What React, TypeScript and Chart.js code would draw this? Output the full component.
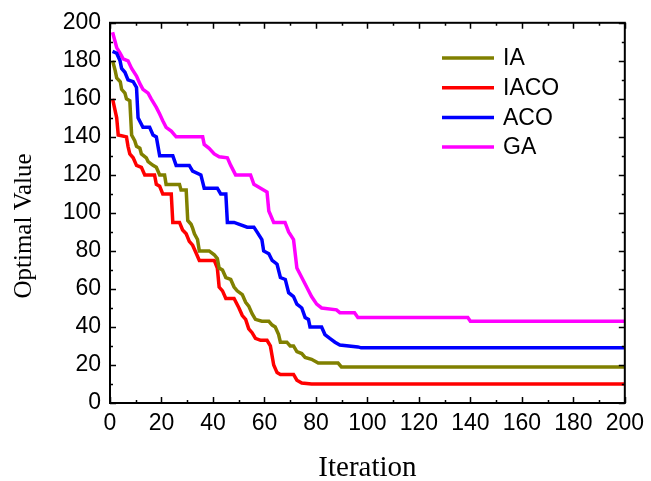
import React, { useEffect, useRef } from "react";
import { Chart, registerables } from "chart.js";

Chart.register(...registerables);

// ---- data ----
const seriesLabels = ["IA", "IACO", "ACO", "GA"];
const seriesColors = ["#808000", "#FF0000", "#0000FF", "#FF00FF"];

const iaIter = [1, 2, 2.6, 4, 4.5, 5.8, 6.4, 7.7, 8.4, 9.6, 10.3, 11.6, 12.2, 14.1, 14.8, 16.7, 18, 19.3, 21.2, 21.8, 27, 27.6, 29.6, 30.2, 31.5, 32.1, 32.8, 34, 34.7, 38.5, 40.5, 41.7, 42.4, 43.7, 45, 46.9, 48.2, 49.4, 51.4, 52.7, 53.9, 55.2, 56.5, 59, 61.7, 63, 64.2, 65.5, 66.2, 68.7, 70, 71.3, 72.6, 74.5, 75.8, 78.3, 80.9, 88.6, 89.9, 200];
const iaValue = [180, 175, 171, 169, 165, 163, 160, 159, 141, 138, 135, 134, 131, 129, 127, 125, 124, 120, 120, 115, 115, 112, 112, 96, 94, 92, 89, 86, 80, 80, 78, 76, 71, 70, 66, 65, 61, 59, 57, 53, 51, 47, 44, 43, 43, 41, 40, 36, 32, 32, 30, 30, 27, 26, 24, 23, 21, 21, 19, 19];

const iacoIter = [1, 2.6, 3.2, 6.4, 7, 7.7, 9, 10.3, 12.2, 13.5, 17.3, 18, 19.3, 20.5, 23.8, 24.4, 27, 28.2, 29.6, 30.8, 32.1, 33.4, 34.7, 40.5, 41.7, 42.4, 43.7, 45, 48.2, 50.1, 51.4, 52.7, 53.9, 55.2, 56.5, 58.5, 61, 62.3, 63.6, 64.9, 66.2, 71.3, 72.6, 74.5, 78.3, 200];
const iacoValue = [160, 150, 141, 140, 135, 131, 129, 125, 124, 120, 120, 115, 114, 110, 110, 95, 95, 91, 89, 85, 83, 79, 75, 75, 71, 61, 59, 55, 55, 50, 46, 44, 39, 37, 34, 33, 33, 30, 20, 16, 15, 15, 12, 10.5, 10, 10];

const acoIter = [1, 2.6, 3.9, 4.5, 5.8, 7, 9, 10.3, 10.9, 12.8, 15.4, 16.7, 18, 19.3, 24.4, 25.7, 30.8, 32.1, 35.3, 36.6, 41.7, 43, 45, 45.6, 48.2, 53.3, 55.9, 57.1, 59, 59.7, 61.7, 63, 64.9, 66.2, 68.1, 69.4, 71.3, 72.6, 74.5, 75.8, 77.1, 77.7, 82.2, 83.5, 85.4, 87.4, 89.3, 96.3, 97.6, 200];
const acoValue = [185, 184, 180, 176, 174, 170, 169, 166, 150, 145, 145, 141, 140, 130, 130, 125, 125, 122, 120, 113, 113, 110, 110, 95, 95, 92.5, 92.5, 90, 86, 80, 78.5, 75, 73, 66, 65, 58, 56, 52, 50, 45, 44, 40, 40, 36, 34, 32, 30.5, 29.5, 29, 29];

const gaIter = [1, 2.6, 3.9, 5.1, 7, 8.4, 10.3, 11.6, 12.8, 14.8, 16, 18, 19.3, 20.5, 21.8, 23.8, 25.7, 36, 36.6, 38.5, 40.5, 42.4, 45.6, 46.9, 48.8, 54.6, 55.9, 58.5, 61, 61.7, 63.6, 68, 69.4, 71.3, 72.6, 74.5, 76.4, 78.3, 80.3, 82.2, 88, 89.3, 95, 96.3, 139, 140, 200];
const gaValue = [195, 187, 184, 181, 180, 176, 172, 168, 165, 163, 160, 155.5, 152, 148.5, 145, 143, 140, 140, 136, 134, 131, 129.5, 129, 125, 120, 120, 115, 113, 111, 101, 95, 95, 90, 86, 71, 66, 61, 56, 52, 50, 49, 47.5, 47.5, 45, 45, 43, 43];

const seriesIters = [iaIter, iacoIter, acoIter, gaIter];
const seriesValues = [iaValue, iacoValue, acoValue, gaValue];

const axisMin = 0;
const axisMax = 200;
const majorStep = 20;
const minorStep = 10;

const xTitle = "Iteration";
const yTitle = "Optimal Value";

const SANS = "'Liberation Sans', Arial, sans-serif";
const SERIF = "'Liberation Serif', 'Times New Roman', serif";

const framePlugin = {
  id: "frameAndLegend",
  afterDatasetsDraw(chart: any) {
    const { ctx, chartArea, scales } = chart;
    const { left, right, top, bottom } = chartArea;
    const xs = scales.x;
    const ys = scales.y;
    ctx.save();
    ctx.strokeStyle = "#000";
    ctx.lineWidth = 2;
    ctx.strokeRect(left, top, right - left, bottom - top);
    ctx.lineWidth = 1.5;
    ctx.beginPath();
    for (let v = axisMin; v <= axisMax; v += minorStep) {
      const major = v % majorStep === 0;
      const len = major ? 6 : 3;
      const px = Math.round(xs.getPixelForValue(v)) + 0.5;
      ctx.moveTo(px, bottom);
      ctx.lineTo(px, bottom - len);
      ctx.moveTo(px, top);
      ctx.lineTo(px, top + len);
      const py = Math.round(ys.getPixelForValue(v)) + 0.5;
      ctx.moveTo(left, py);
      ctx.lineTo(left + len, py);
      ctx.moveTo(right, py);
      ctx.lineTo(right - len, py);
    }
    ctx.stroke();

    // legend inside plot
    const lx0 = 442;
    const lx1 = 494;
    const ly0 = 58;
    const lgap = 29.7;
    ctx.font = `23px ${SANS}`;
    ctx.textBaseline = "middle";
    ctx.textAlign = "left";
    chart.data.datasets.forEach((ds: any, i: number) => {
      const yy = ly0 + i * lgap;
      ctx.strokeStyle = ds.borderColor;
      ctx.lineWidth = 3.5;
      ctx.beginPath();
      ctx.moveTo(lx0, yy);
      ctx.lineTo(lx1, yy);
      ctx.stroke();
      ctx.fillStyle = "#000";
      ctx.fillText(ds.label, 503, yy + 1);
    });

    // axis titles
    ctx.fillStyle = "#000";
    ctx.textBaseline = "alphabetic";
    ctx.textAlign = "center";
    ctx.font = `29px ${SERIF}`;
    ctx.fillText(xTitle, (left + right) / 2, 476);
    ctx.save();
    ctx.translate(31, 226);
    ctx.rotate(-Math.PI / 2);
    ctx.font = `25px ${SERIF}`;
    ctx.fillText(yTitle, 0, 0);
    ctx.restore();
    ctx.restore();
  },
};

export default function App() {
  const canvasRef = useRef<HTMLCanvasElement | null>(null);

  useEffect(() => {
    const canvas = canvasRef.current;
    if (!canvas) return;
    const datasets = seriesLabels.map((label, i) => ({
      label,
      data: seriesIters[i].map((x, j) => ({ x, y: seriesValues[i][j] })),
      borderColor: seriesColors[i],
      backgroundColor: seriesColors[i],
      borderWidth: 3.5,
      pointRadius: 0,
      tension: 0,
      fill: false,
    }));
    const chart = new Chart(canvas, {
      type: "line",
      data: { datasets },
      plugins: [framePlugin],
      options: {
        animation: false,
        responsive: false,
        devicePixelRatio: 1,
        layout: {
          autoPadding: false,
          padding: { top: 22, right: 22, bottom: 0, left: 0 },
        },
        plugins: {
          legend: { display: false },
          tooltip: { enabled: false },
        },
        scales: {
          x: {
            type: "linear",
            min: axisMin,
            max: axisMax,
            grid: { display: false, drawTicks: false },
            border: { display: false },
            ticks: {
              stepSize: majorStep,
              color: "#000",
              padding: 7,
              maxRotation: 0,
              autoSkip: false,
              font: { family: SANS, size: 23 },
            },
            afterFit: (scale: any) => {
              scale.height = 78;
            },
          },
          y: {
            type: "linear",
            min: axisMin,
            max: axisMax,
            grid: { display: false, drawTicks: false },
            border: { display: false },
            ticks: {
              stepSize: majorStep,
              color: "#000",
              padding: 9,
              autoSkip: false,
              font: { family: SANS, size: 23 },
            },
            afterFit: (scale: any) => {
              scale.width = 110;
            },
          },
        },
      },
    });
    return () => chart.destroy();
  }, []);

  return (
    <div style={{ position: "absolute", left: 0, top: 0, width: 651, height: 481, background: "#fff" }}>
      <canvas ref={canvasRef} width={651} height={481} style={{ display: "block" }} />
    </div>
  );
}
